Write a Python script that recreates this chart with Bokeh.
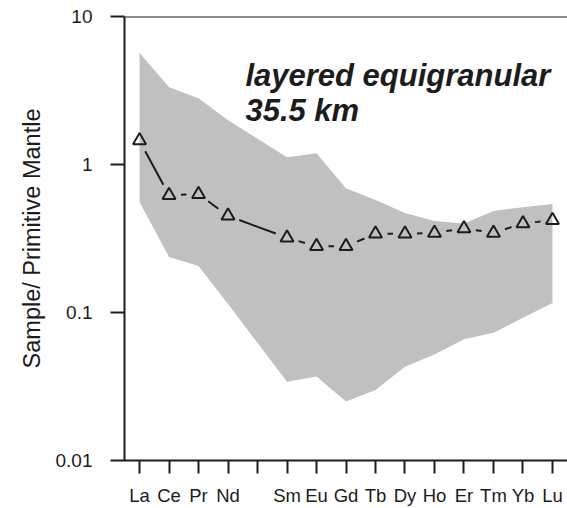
import math
from bokeh.plotting import figure
from bokeh.models import FixedTicker, Span, Label, CustomJSTickFormatter
from bokeh.embed import file_html
from bokeh.resources import INLINE

# Tick categories (Pm has a tick but no label)
elements = ["La", "Ce", "Pr", "Nd", "Pm", "Sm", "Eu", "Gd", "Tb", "Dy", "Ho", "Er", "Tm", "Yb", "Lu"]
tick_labels = ["La", "Ce", "Pr", "Nd", "", "Sm", "Eu", "Gd", "Tb", "Dy", "Ho", "Er", "Tm", "Yb", "Lu"]

# Elements with data
sample_elements = ["La", "Ce", "Pr", "Nd", "Sm", "Eu", "Gd", "Tb", "Dy", "Ho", "Er", "Tm", "Yb", "Lu"]
sample_values = [1.45, 0.62, 0.63, 0.45, 0.32, 0.28, 0.28, 0.34, 0.34, 0.345, 0.37, 0.345, 0.40, 0.42]
band_upper = [5.7, 3.32, 2.8, 1.99, 1.12, 1.19, 0.69, 0.575, 0.47, 0.415, 0.40, 0.485, 0.515, 0.54]
band_lower = [0.557, 0.237, 0.206, 0.114, 0.034, 0.037, 0.025, 0.030, 0.043, 0.052, 0.066, 0.073, 0.092, 0.116]

y_ticks = [0.01, 0.1, 1, 10]

xs = [elements.index(e) + 1 for e in sample_elements]

X0, X1 = 0.49, 15.51
Y0, Y1 = 0.01, 10
FRAME_W, FRAME_H = 443, 445

p = figure(width=567, height=508, y_axis_type="log",
           x_range=(X0, X1), y_range=(Y0, Y1),
           output_backend="svg", toolbar_location=None,
           min_border_left=124, min_border_right=0,
           min_border_top=16, min_border_bottom=47)
p.outline_line_color = None
p.grid.visible = False
p.background_fill_color = "white"
p.border_fill_color = "white"

INK = "#1c1c1c"
FONT = "Liberation Sans"

# grey range band
p.patch(xs + xs[::-1], band_upper + band_lower[::-1],
        fill_color="#c0c0c0", line_color=None)

# gapped line segments between markers (R type="b" style)
sx = FRAME_W / (X1 - X0)
sy = FRAME_H / (math.log10(Y1) - math.log10(Y0))
gap = 12.0
x0s, y0s, x1s, y1s = [], [], [], []
for i in range(len(xs) - 1):
    xa, xb = xs[i], xs[i + 1]
    la, lb = math.log10(sample_values[i]), math.log10(sample_values[i + 1])
    L = math.hypot((xb - xa) * sx, (lb - la) * sy)
    if L > 2 * gap:
        t0, t1 = gap / L, 1 - gap / L
        x0s.append(xa + t0 * (xb - xa)); y0s.append(10 ** (la + t0 * (lb - la)))
        x1s.append(xa + t1 * (xb - xa)); y1s.append(10 ** (la + t1 * (lb - la)))
p.segment(x0s, y0s, x1s, y1s, line_color=INK, line_width=2)

p.scatter(xs, sample_values, marker="triangle", size=13,
          fill_color=None, line_color=INK, line_width=2)

# top border
p.add_layout(Span(location=Y1, dimension="width", line_color=INK, line_width=2))

# axes
p.xaxis.ticker = FixedTicker(ticks=list(range(1, len(elements) + 1)))
p.xaxis.major_label_overrides = {i + 1: lab for i, lab in enumerate(tick_labels)}
p.yaxis.ticker = FixedTicker(ticks=y_ticks, minor_ticks=[])
p.yaxis.formatter = CustomJSTickFormatter(code="return String(tick)")
p.xaxis.minor_tick_line_color = None
p.yaxis.minor_tick_line_color = None

for ax in (p.xaxis[0], p.yaxis[0]):
    ax.axis_line_color = INK
    ax.axis_line_width = 2
    ax.major_tick_line_color = INK
    ax.major_tick_line_width = 2
    ax.major_tick_in = 0
    ax.major_label_text_font = FONT
    ax.major_label_text_color = INK

p.xaxis.major_tick_out = 13
p.xaxis.major_label_standoff = 11
p.xaxis.major_label_text_font_size = "18.5px"

p.yaxis.major_tick_out = 14
p.yaxis.major_label_standoff = 18
p.yaxis.major_label_text_font_size = "19px"
p.yaxis.axis_label = "Sample/ Primitive Mantle"
p.yaxis.axis_label_text_font = FONT
p.yaxis.axis_label_text_font_size = "23.5px"
p.yaxis.axis_label_text_font_style = "normal"
p.yaxis.axis_label_text_color = INK
p.yaxis.axis_label_standoff = 8

# annotation
p.add_layout(Label(x=4.59, y=4.0, text="layered equigranular", text_font=FONT,
                   text_font_style="bold italic", text_font_size="31px",
                   text_color=INK, text_baseline="alphabetic"))
p.add_layout(Label(x=4.59, y=2.32, text="35.5 km", text_font=FONT,
                   text_font_style="bold italic", text_font_size="31px",
                   text_color=INK, text_baseline="alphabetic"))

open("out.html", "w").write(file_html(p, INLINE))
